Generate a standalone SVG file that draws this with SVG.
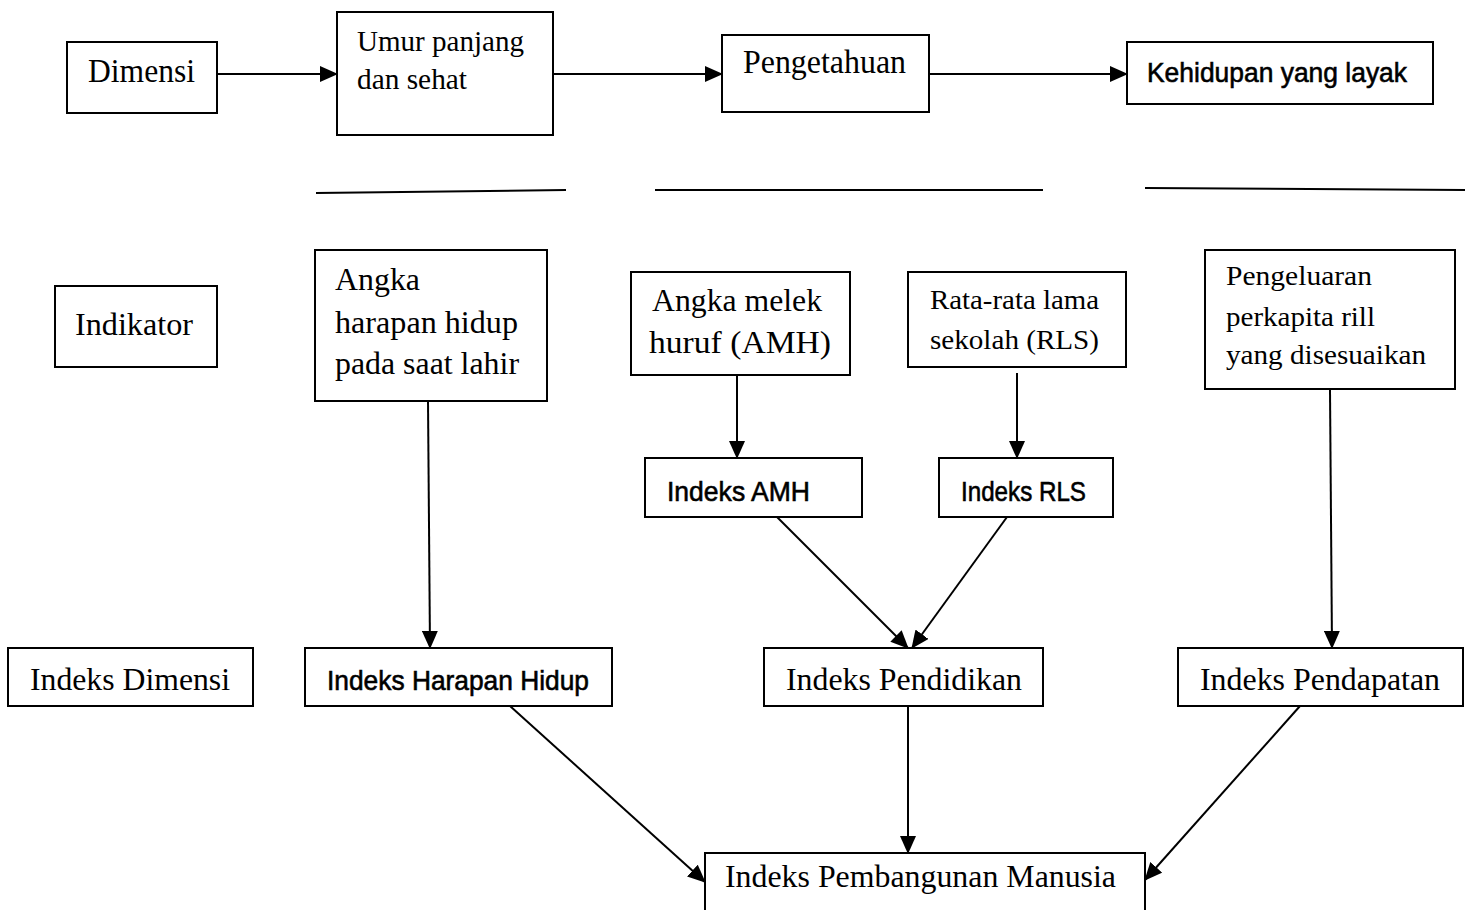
<svg xmlns="http://www.w3.org/2000/svg" width="1472" height="910" viewBox="0 0 1472 910">
<style>
.box{fill:#fff;stroke:#000;stroke-width:2}
.s{font-family:"Liberation Serif","Times New Roman",serif;fill:#000}
.a{font-family:"Liberation Sans",Arial,sans-serif;fill:#000;stroke:#000;stroke-width:0.6}
.c{stroke:#000;stroke-width:2;fill:none}
</style>
<defs>
<marker id="ah" markerUnits="userSpaceOnUse" markerWidth="18" markerHeight="16" refX="17" refY="8" orient="auto">
<path d="M0,0 L18,8 L0,16 z" fill="#000"/>
</marker>
</defs>
<rect width="1472" height="910" fill="#fff"/>
<g id="connectors">
<line class="c" x1="217" y1="74" x2="337" y2="74" marker-end="url(#ah)"/>
<line class="c" x1="553" y1="74" x2="722" y2="74" marker-end="url(#ah)"/>
<line class="c" x1="929" y1="74" x2="1127" y2="74" marker-end="url(#ah)"/>
<line class="c" x1="428" y1="401" x2="430" y2="648" marker-end="url(#ah)"/>
<line class="c" x1="737" y1="375" x2="737" y2="458" marker-end="url(#ah)"/>
<line class="c" x1="1017" y1="373" x2="1017" y2="458" marker-end="url(#ah)"/>
<line class="c" x1="1330" y1="390" x2="1332" y2="648" marker-end="url(#ah)"/>
<line class="c" x1="777" y1="517" x2="908" y2="648" marker-end="url(#ah)"/>
<line class="c" x1="1007" y1="517" x2="912" y2="648" marker-end="url(#ah)"/>
<line class="c" x1="510" y1="706" x2="705" y2="882" marker-end="url(#ah)"/>
<line class="c" x1="908" y1="706" x2="908" y2="853" marker-end="url(#ah)"/>
<line class="c" x1="1300" y1="706" x2="1145" y2="880" marker-end="url(#ah)"/>
</g>
<g id="separators">
<line x1="316" y1="193" x2="566" y2="190" stroke="#000" stroke-width="2"/>
<line x1="655" y1="190" x2="1043" y2="190" stroke="#000" stroke-width="2"/>
<line x1="1145" y1="188" x2="1465" y2="190" stroke="#000" stroke-width="2"/>
</g>
<g id="dimensi">
<rect class="box" x="67" y="42" width="150" height="71"/>
<text class="s" x="88" y="82" font-size="33" textLength="107" lengthAdjust="spacingAndGlyphs">Dimensi</text>
</g>
<g id="umur">
<rect class="box" x="337" y="12" width="216" height="123"/>
<text class="s" x="357" y="51" font-size="29" textLength="167" lengthAdjust="spacingAndGlyphs">Umur panjang</text>
<text class="s" x="357" y="89" font-size="29" textLength="110" lengthAdjust="spacingAndGlyphs">dan sehat</text>
</g>
<g id="pengetahuan">
<rect class="box" x="722" y="35" width="207" height="77"/>
<text class="s" x="743" y="73" font-size="33" textLength="163" lengthAdjust="spacingAndGlyphs">Pengetahuan</text>
</g>
<g id="kehidupan">
<rect class="box" x="1127" y="42" width="306" height="62"/>
<text class="a" x="1147" y="82" font-size="28" textLength="260" lengthAdjust="spacingAndGlyphs">Kehidupan yang layak</text>
</g>
<g id="indikator">
<rect class="box" x="55" y="286" width="162" height="81"/>
<text class="s" x="75" y="335" font-size="32" textLength="118" lengthAdjust="spacingAndGlyphs">Indikator</text>
</g>
<g id="angka-harapan">
<rect class="box" x="315" y="250" width="232" height="151"/>
<text class="s" x="335" y="290" font-size="32" textLength="85" lengthAdjust="spacingAndGlyphs">Angka</text>
<text class="s" x="335" y="333" font-size="32" textLength="183" lengthAdjust="spacingAndGlyphs">harapan hidup</text>
<text class="s" x="335" y="374" font-size="32" textLength="184" lengthAdjust="spacingAndGlyphs">pada saat lahir</text>
</g>
<g id="angka-melek">
<rect class="box" x="631" y="272" width="219" height="103"/>
<text class="s" x="652" y="311" font-size="31" textLength="170" lengthAdjust="spacingAndGlyphs">Angka melek</text>
<text class="s" x="649" y="353" font-size="31" textLength="182" lengthAdjust="spacingAndGlyphs">huruf (AMH)</text>
</g>
<g id="rata-rata">
<rect class="box" x="908" y="272" width="218" height="95"/>
<text class="s" x="930" y="309" font-size="28" textLength="169" lengthAdjust="spacingAndGlyphs">Rata-rata lama</text>
<text class="s" x="930" y="349" font-size="28" textLength="169" lengthAdjust="spacingAndGlyphs">sekolah (RLS)</text>
</g>
<g id="pengeluaran">
<rect class="box" x="1205" y="250" width="250" height="139"/>
<text class="s" x="1226" y="285" font-size="27" textLength="146" lengthAdjust="spacingAndGlyphs">Pengeluaran</text>
<text class="s" x="1226" y="326" font-size="27" textLength="149" lengthAdjust="spacingAndGlyphs">perkapita rill</text>
<text class="s" x="1226" y="364" font-size="27" textLength="200" lengthAdjust="spacingAndGlyphs">yang disesuaikan</text>
</g>
<g id="indeks-amh">
<rect class="box" x="645" y="458" width="217" height="59"/>
<text class="a" x="667" y="501" font-size="28" textLength="143" lengthAdjust="spacingAndGlyphs">Indeks AMH</text>
</g>
<g id="indeks-rls">
<rect class="box" x="939" y="458" width="174" height="59"/>
<text class="a" x="961" y="501" font-size="28" textLength="125" lengthAdjust="spacingAndGlyphs">Indeks RLS</text>
</g>
<g id="indeks-dimensi">
<rect class="box" x="8" y="648" width="245" height="58"/>
<text class="s" x="30" y="690" font-size="32" textLength="200" lengthAdjust="spacingAndGlyphs">Indeks Dimensi</text>
</g>
<g id="indeks-harapan-hidup">
<rect class="box" x="305" y="648" width="307" height="58"/>
<text class="a" x="327" y="690" font-size="28" textLength="262" lengthAdjust="spacingAndGlyphs">Indeks Harapan Hidup</text>
</g>
<g id="indeks-pendidikan">
<rect class="box" x="764" y="648" width="279" height="58"/>
<text class="s" x="786" y="690" font-size="32" textLength="236" lengthAdjust="spacingAndGlyphs">Indeks Pendidikan</text>
</g>
<g id="indeks-pendapatan">
<rect class="box" x="1178" y="648" width="285" height="58"/>
<text class="s" x="1200" y="690" font-size="32" textLength="240" lengthAdjust="spacingAndGlyphs">Indeks Pendapatan</text>
</g>
<g id="ipm">
<rect class="box" x="705" y="853" width="440" height="70"/>
<text class="s" x="725" y="887" font-size="32" textLength="391" lengthAdjust="spacingAndGlyphs">Indeks Pembangunan Manusia</text>
</g>
</svg>
